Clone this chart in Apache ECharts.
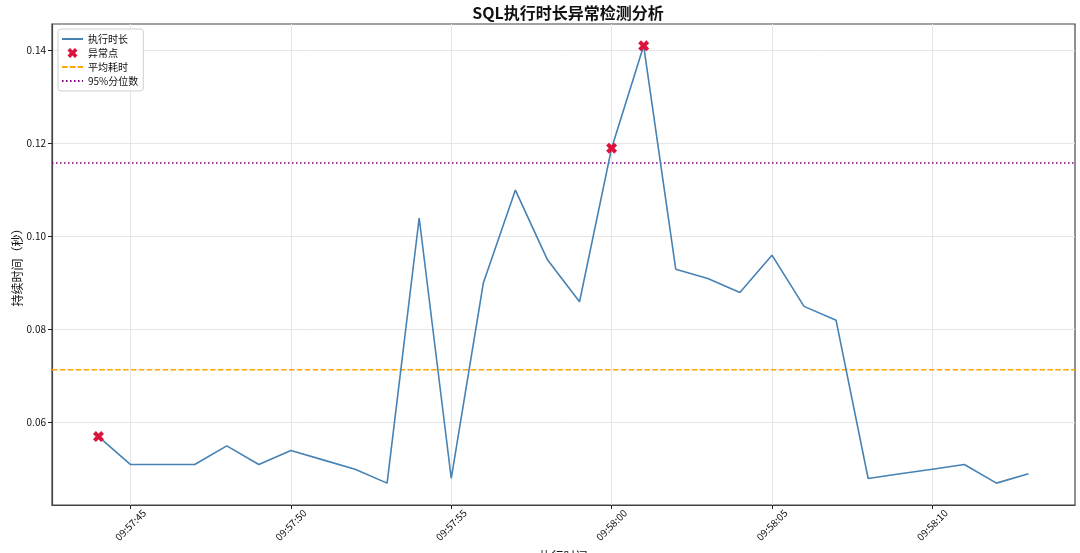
<!DOCTYPE html>
<html>
<head>
<meta charset="utf-8">
<script src="https://cdn.jsdelivr.net/npm/echarts@6/dist/echarts.min.js"></script>
<style>html,body{margin:0;padding:0;background:#fff;}#c{width:1080px;height:553px;}</style>
</head>
<body>
<div id="c"></div>
<script>
// ---- data ----
const times = ["09:57:44","09:57:45","09:57:46","09:57:47","09:57:48","09:57:49","09:57:50","09:57:51","09:57:52","09:57:53",
               "09:57:54","09:57:55","09:57:56","09:57:57","09:57:58","09:57:59","09:58:00","09:58:01","09:58:02","09:58:03",
               "09:58:04","09:58:05","09:58:06","09:58:07","09:58:08","09:58:09","09:58:10","09:58:11","09:58:12","09:58:13"];
const durations = [0.057,0.051,0.051,0.051,0.055,0.051,0.054,0.052,0.050,0.047,
                   0.104,0.048,0.090,0.110,0.095,0.086,0.119,0.141,0.093,0.091,
                   0.088,0.096,0.085,0.082,0.048,0.049,0.050,0.051,0.047,0.049];
const anomalyTimes = ["09:57:44","09:58:00","09:58:01"];
const anomalyValues = [0.057,0.119,0.141];
const meanValue = 0.0714;
const p95Value = 0.1158;
const xTickLabels = ["09:57:45","09:57:50","09:57:55","09:58:00","09:58:05","09:58:10"];
const yTickValues = [0.06,0.08,0.10,0.12,0.14];

// ---- helpers ----
function toSec(t){const p=t.split(':').map(Number);return p[0]*3600+p[1]*60+p[2];}
function fmt(s){s=Math.round(s);const h=Math.floor(s/3600),m=Math.floor((s%3600)/60),ss=s%60;
  return [h,m,ss].map(v=>String(v).padStart(2,'0')).join(':');}
const xs = times.map(toSec);
const span = xs[xs.length-1]-xs[0];
const xMin = xs[0]-0.05*span, xMax = xs[xs.length-1]+0.05*span;
const yLo = Math.min(...durations), yHi = Math.max(...durations);
const yMin = yLo-0.05*(yHi-yLo), yMax = yHi+0.05*(yHi-yLo);
const xTickVals = xTickLabels.map(toSec);

const font = '"Noto Sans CJK SC","DejaVu Sans",sans-serif';
const xMarker = 'path://M0,2.6 L2.6,0 L5,2.4 L7.4,0 L10,2.6 L7.6,5 L10,7.4 L7.4,10 L5,7.6 L2.6,10 L0,7.4 L2.4,5 Z';
const hideSym = {opacity:0};

const chart = echarts.init(document.getElementById('c'), null, {renderer:'canvas'});
chart.setOption({
  animation:false,
  backgroundColor:'#fff',
  title:{text:'SQL执行时长异常检测分析',left:563,top:0,textAlign:'center',
    textStyle:{fontFamily:font,fontSize:16,fontWeight:'bold',color:'#111'}},
  grid:{left:52,right:5,top:24,bottom:48,containLabel:false,outerBoundsMode:'none',
    show:true,borderColor:'#444',borderWidth:1.2,backgroundColor:'transparent'},
  legend:{orient:'vertical',left:58,top:29,padding:[5,5,5,3],itemGap:4,itemWidth:21,itemHeight:10,
    backgroundColor:'rgba(255,255,255,0.85)',borderColor:'#d0d0d0',borderWidth:1,borderRadius:3,
    textStyle:{fontFamily:font,fontSize:10,color:'#111'},
    data:[{name:'执行时长',itemStyle:hideSym},{name:'异常点',icon:xMarker,itemStyle:{color:'#DC143C',opacity:1}},
          {name:'平均耗时',itemStyle:hideSym},{name:'95%分位数',itemStyle:hideSym}]},
  xAxis:{type:'value',min:xMin,max:xMax,
    name:'执行时间',nameLocation:'middle',nameGap:45,nameMoveOverlap:false,nameTextStyle:{fontFamily:font,fontSize:12,color:'#111'},
    axisLine:{show:true,lineStyle:{color:'#444',width:1.2}},
    axisTick:{show:true,length:4,lineStyle:{color:'#222'},customValues:xTickVals},
    axisLabel:{customValues:xTickVals,formatter:v=>fmt(v),rotate:45,align:'center',verticalAlign:'middle',margin:20,
      fontFamily:font,fontSize:10,color:'#111'},
    splitLine:{show:true,lineStyle:{color:'#e6e6e6',width:1}}},
  yAxis:{type:'value',min:yMin,max:yMax,
    name:'持续时间（秒）',nameLocation:'middle',nameGap:29,nameMoveOverlap:false,nameTextStyle:{fontFamily:font,fontSize:12,color:'#111'},
    axisLine:{show:true,lineStyle:{color:'#444',width:1.2}},
    axisTick:{show:true,length:4,lineStyle:{color:'#222'},customValues:yTickValues},
    axisLabel:{customValues:yTickValues,formatter:v=>v.toFixed(2),margin:6,fontFamily:font,fontSize:10,color:'#111'},
    splitLine:{show:true,lineStyle:{color:'#e6e6e6',width:1}}},
  series:[
    {name:'执行时长',type:'line',data:xs.map((x,i)=>[x,durations[i]]),symbol:'none',
      lineStyle:{color:'#4682B4',width:1.6},itemStyle:{color:'#4682B4'},z:3},
    {name:'异常点',type:'scatter',data:anomalyTimes.map((t,i)=>[toSec(t),anomalyValues[i]]),
      symbol:xMarker,symbolSize:11,itemStyle:{color:'#DC143C',opacity:1},z:5},
    {name:'平均耗时',type:'line',data:[[xMin,meanValue],[xMax,meanValue]],symbol:'none',
      lineStyle:{color:'#FFA500',width:1.5,type:[5.5,2.4]},itemStyle:{color:'#FFA500'},z:2},
    {name:'95%分位数',type:'line',data:[[xMin,p95Value],[xMax,p95Value]],symbol:'none',
      lineStyle:{color:'#800080',width:1.5,type:[1.5,2.5]},itemStyle:{color:'#800080'},z:2}
  ]
});
</script>
</body>
</html>
